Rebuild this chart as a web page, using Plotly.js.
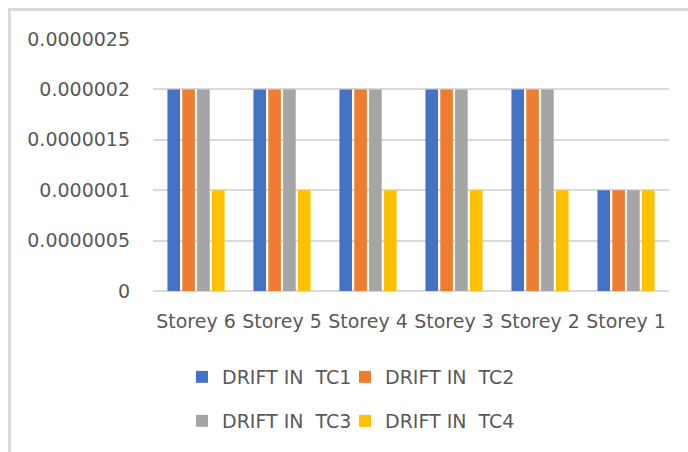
<!DOCTYPE html>
<html>
<head>
<meta charset="utf-8">
<script src="https://cdn.plot.ly/plotly-3.0.1.min.js"></script>
<style>
  html, body { margin: 0; padding: 0; background: #ffffff; }
  #chart { width: 688px; height: 452px; position: relative; }
  #frame { position: absolute; left: 8px; top: 8px; width: 700px; height: 460px;
           border-left: 3px solid #d9d9d9; border-top: 3px solid #d9d9d9;
           pointer-events: none; box-sizing: border-box; }
</style>
</head>
<body>
<div style="position:relative;width:688px;height:452px;overflow:hidden;">
  <div id="chart"></div>
  <div id="frame"></div>
</div>
<script>
const categories = ["Storey 6", "Storey 5", "Storey 4", "Storey 3", "Storey 2", "Storey 1"];
const seriesNames = ["DRIFT IN\u00A0 TC1", "DRIFT IN\u00A0 TC2", "DRIFT IN\u00A0 TC3", "DRIFT IN\u00A0 TC4"];
const tc1 = [0.000002, 0.000002, 0.000002, 0.000002, 0.000002, 0.000001];
const tc2 = [0.000002, 0.000002, 0.000002, 0.000002, 0.000002, 0.000001];
const tc3 = [0.000002, 0.000002, 0.000002, 0.000002, 0.000002, 0.000001];
const tc4 = [0.000001, 0.000001, 0.000001, 0.000001, 0.000001, 0.000001];
const yTickVals = [0, 0.0000005, 0.000001, 0.0000015, 0.000002, 0.0000025];
const yTickText = ["0", "0.0000005", "0.000001", "0.0000015", "0.000002", "0.0000025"];

const colors = ["#4472C4", "#ED7D31", "#A5A5A5", "#FFC000"];
const values = [tc1, tc2, tc3, tc4];
const legendIds = ["legend", "legend2", "legend3", "legend4"];

const traces = values.map((v, i) => ({
  type: "bar",
  name: seriesNames[i],
  x: categories,
  y: v,
  marker: { color: colors[i] },
  legend: legendIds[i],
  hoverinfo: "x+y+name"
}));

const font = { family: "DejaVu Sans", size: 19, color: "#595959" };
const W = 516, H = 252, L = 153, B = 291;
function px(x) { return (x - L) / W; }
function py(y) { return (B - y) / H; }
function legendAt(xLeft, yMid) {
  return { x: px(xLeft), y: py(yMid), xanchor: "left", yanchor: "middle",
           orientation: "h", bgcolor: "rgba(0,0,0,0)", borderwidth: 0,
           font: font, traceorder: "normal" };
}

const layout = {
  width: 688, height: 452,
  margin: { l: 153, r: 19, t: 39, b: 161 },
  paper_bgcolor: "#ffffff",
  plot_bgcolor: "#ffffff",
  font: font,
  barmode: "group",
  bargap: 0.31,
  bargroupgap: 0.15,
  showlegend: true,
  xaxis: {
    type: "category",
    showgrid: false,
    showline: false,
    zeroline: false,
    ticks: "",
    tickfont: font,
    ticklabelstandoff: 17
  },
  yaxis: {
    range: [0, 0.0000025],
    tickvals: yTickVals,
    ticktext: yTickText,
    showgrid: true,
    gridcolor: "#d9d9d9",
    gridwidth: 2,
    zeroline: true,
    zerolinecolor: "#d9d9d9",
    zerolinewidth: 2,
    showline: false,
    ticks: "",
    tickfont: font,
    ticklabelstandoff: 22
  },
  legend: legendAt(182, 377),
  legend2: legendAt(345, 377),
  legend3: legendAt(182, 421),
  legend4: legendAt(345, 421)
};

Plotly.newPlot("chart", traces, layout, { displayModeBar: false, staticPlot: true });
</script>
</body>
</html>
